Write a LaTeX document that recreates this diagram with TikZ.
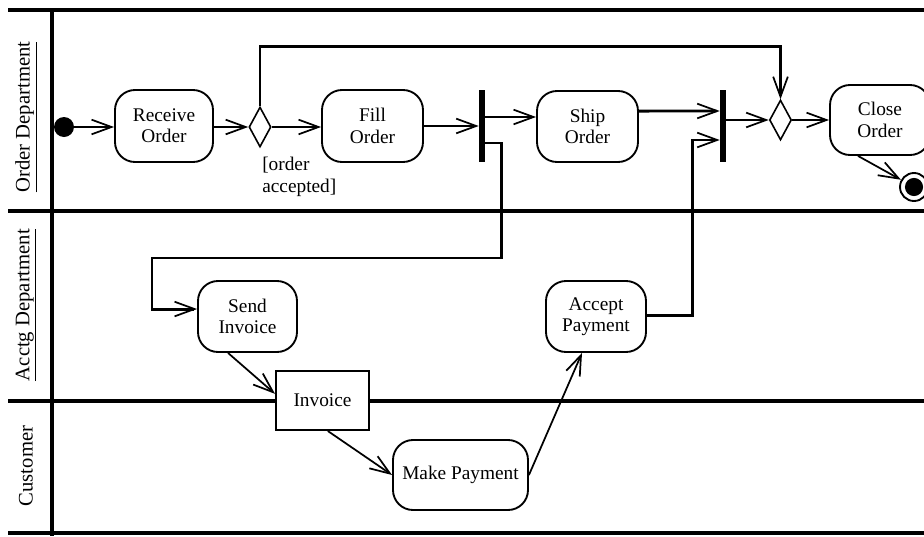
\documentclass[tikz,border=0pt]{standalone}
\usepackage{fontspec}
\setmainfont{Liberation Serif}
\usetikzlibrary{arrows.meta,shapes.geometric,calc}
\begin{document}
\begin{tikzpicture}[x=0.75pt,y=-0.75pt,
  font=\fontsize{14.5}{16}\selectfont,
  lane/.style={line width=3pt},
  lanelabel/.style={rotate=90, font=\fontsize{15.5}{17}\selectfont},
  act/.style={draw, fill=white, line width=1.4pt, rounded corners=15pt, align=center, inner sep=0pt},
  objbox/.style={draw, fill=white, line width=1.5pt, inner sep=0pt},
  bar/.style={fill, inner sep=0pt, minimum width=4.5pt, minimum height=54pt},
  dec/.style={draw, diamond, line width=1.2pt, inner sep=0pt, minimum width=16.5pt, minimum height=30pt, shape aspect=0.55},
  arr/.style={line width=1.3pt, -{Straight Barb[length=15pt,width=11pt,line width=1.3pt]}},
  tarr/.style={line width=2.2pt, -{Straight Barb[length=15pt,width=11pt,line width=1.3pt]}},
  startnode/.style={circle, fill, inner sep=0pt, minimum size=15pt},
  endnode/.style={circle, draw, line width=1.4pt, fill=white, inner sep=0pt, minimum size=21pt},
]
\clip (0,0) rectangle (924,536);
% swimlanes
\draw[lane] (8,10) -- (924,10);
\draw[lane] (8,210.5) -- (924,210.5);
\draw[lane] (8,401) -- (924,401);
\draw[lane] (8,533) -- (924,533);
\draw[lane] (52,10) -- (52,536);
\node[lanelabel] (lane1) at (26,117) {\underline{Order Department}};
\node[lanelabel] (lane2) at (26,305) {\underline{Acctg Department}};
\node[lanelabel] (lane3) at (26,466) {Customer};

% nodes
\node[startnode] (init) at (64,127) {};
\node[act, minimum width=73.5pt, minimum height=54pt] (recv) at (164,126) {Receive\\Order};
\node[dec] (d1) at (260,127) {};
\node[act, minimum width=75.75pt, minimum height=54pt] (fill) at (372.5,126) {Fill\\Order};
\node[bar] (bar1) at (482,126) {};
\node[act, minimum width=75.75pt, minimum height=53.25pt] (ship) at (587.5,126.5) {Ship\\Order};
\node[bar] (bar2) at (723,126) {};
\node[dec] (d2) at (780.5,120) {};
\node[act, minimum width=75pt, minimum height=52.5pt] (close) at (880,120) {Close\\Order};
\node[endnode] (fin) at (914,187) {};
\fill (fin.center) circle (6.8pt);
\node[anchor=north west, align=left, inner sep=0pt] (guard) at (262,157) {[order\\accepted]};

\node[act, minimum width=74.25pt, minimum height=53.25pt] (send) at (247.5,316.5) {Send\\Invoice};
\node[act, minimum width=75pt, minimum height=53.25pt] (accept) at (596,316.5) {Accept\\Payment};
\node[objbox, minimum width=69.75pt, minimum height=44.25pt] (inv) at (322.5,400.5) {Invoice};
\node[act, minimum width=101.25pt, minimum height=52.5pt] (make) at (460.5,475) {Make Payment};

% connectors
\draw[arr] (init) -- (recv.west |- init);
\draw[arr] (recv.east |- d1) -- (d1.west);
\draw[arr] (d1.east) -- (fill.west |- d1);
\draw[tarr] (d1.north) -- ++(0,-60) -| (d2.north);
\draw[arr] (fill.east) -- (bar1.west |- fill.east);
\draw[arr] ([yshift=6.75pt]bar1.east) -- ($(ship.west)+(0,-9.5)$);
\draw[tarr] ([yshift=-12.75pt]bar1.east) -- ++(16,0) |- (152,258) |- ([yshift=5.6pt]send.west);
\draw[tarr] ([yshift=11.6pt]ship.east) -- ($(bar2.west)+(0,-15)$);
\draw[tarr] ([yshift=1pt]accept.east) -- ++(46,0) |- ([yshift=-10.5pt]bar2.west);
\draw[arr] ([yshift=4.5pt]bar2.east) -- (d2.west);
\draw[arr] (d2.east) -- (close.west);
\draw[arr] ($(close.south)+(-22,0)$) -- (fin);
\draw[arr] ([xshift=-14.6pt]send.south) -- ([yshift=5pt]inv.west);
\draw[arr] ([xshift=4pt]inv.south) -- (make.west);
\draw[arr] (make.east) -- ([xshift=-10.5pt]accept.south);
\end{tikzpicture}
\end{document}
